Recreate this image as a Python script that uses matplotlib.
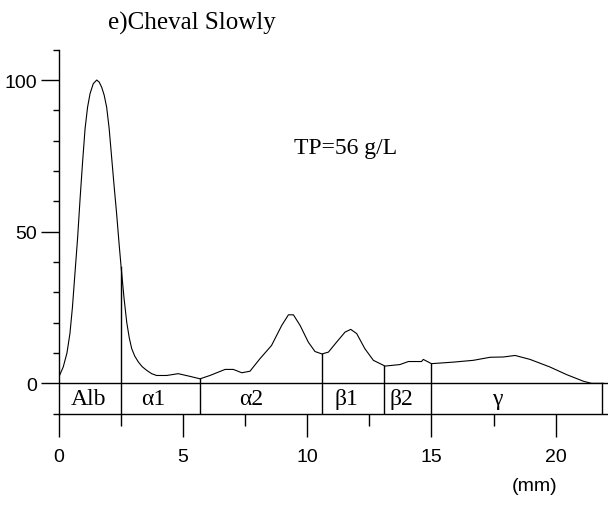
import matplotlib
matplotlib.use('Agg')
import matplotlib.pyplot as plt
import numpy as np

# densitometry trace (mm, relative %)
pos_mm = [0, 0.17, 0.32, 0.44, 0.54, 0.64, 0.75, 0.85, 0.95, 1.05, 1.15, 1.25, 1.38,
          1.52, 1.62, 1.72, 1.82, 1.92, 2.02, 2.12, 2.22, 2.32, 2.42, 2.5, 2.62,
          2.73, 2.83, 2.93, 3.05, 3.2, 3.35, 3.53, 3.73, 3.93, 4.34, 4.8, 5.28, 5.68,
          6.08, 6.69, 7.02, 7.36, 7.69, 8.09, 8.56, 8.97, 9.24, 9.44, 9.71, 10.04,
          10.31, 10.59, 10.85, 11.18, 11.52, 11.75, 11.99, 12.32, 12.66, 13.13,
          13.73, 14.07, 14.6, 14.67, 15.0, 15.88, 16.69, 17.36, 17.9, 18.37, 18.97,
          19.77, 20.44, 21.12, 21.45, 21.92]
intensity = [2.2, 5.4, 10, 16.4, 25, 36, 48, 61, 73, 84, 91, 95.5, 98.8,
             100, 99.3, 97.6, 95, 91, 84, 74.5, 65, 56, 46, 38.5, 28,
             20, 15, 11.4, 9, 7.0, 5.5, 4.3, 3.2, 2.6, 2.6, 3.2, 2.3, 1.5,
             2.6, 4.6, 4.6, 3.5, 4.0, 8.1, 12.5, 19.1, 22.6, 22.6, 19.1, 13.6,
             10.5, 9.7, 10.3, 13.6, 16.9, 17.8, 16.4, 11.4, 7.6, 5.7,
             6.2, 7.2, 7.2, 7.9, 6.5, 7.0, 7.6, 8.6, 8.7, 9.2, 7.9,
             5.4, 2.9, 0.7, 0.0, 0.0]

# fraction borders and names
borders = [2.5, 5.68, 10.59, 13.1, 15.0, 21.88]
fractions = ['Alb', 'α1', 'α2', 'β1', 'β2', 'γ']
label_x = [1.17, 3.78, 7.72, 11.56, 13.8, 17.63]

title = 'e)Cheval Slowly'
tp_text = 'TP=56 g/L'

sans = ['Liberation Sans Narrow', 'Liberation Sans', 'DejaVu Sans']
serif = ['Liberation Serif', 'DejaVu Serif']

fig = plt.figure(figsize=(6.08, 5.06), dpi=100)
ax = fig.add_axes([59/608, 91.3/506, 549/608, 364/506])

ax.plot(pos_mm, intensity, color='black', lw=0.8)
ax.axhline(0, color='black', lw=1.0)

tops = np.interp(borders, pos_mm, intensity)
for b, t in zip(borders, tops):
    ax.plot([b, b], [-10, t], color='black', lw=1.0)

for name, lx in zip(fractions, label_x):
    ax.text(lx, -5, name, ha='center', va='center', fontsize=17, family=serif)

ax.text(11.54, 77.6, tp_text, ha='center', va='center', fontsize=17, family=serif)

ax.set_xlim(0, 22.11)
ax.set_ylim(-10, 110)
ax.spines['top'].set_visible(False)
ax.spines['right'].set_visible(False)
ax.spines['left'].set_linewidth(1.0)
ax.spines['bottom'].set_linewidth(1.0)

ax.set_xticks([0, 5, 10, 15, 20])
ax.set_xticks([2.5, 7.5, 12.5, 17.5], minor=True)
ax.set_yticks([0, 50, 100])
ax.set_yticks(np.arange(-10, 111, 10), minor=True)
ax.tick_params(axis='x', which='major', length=16.3, width=1.0, pad=8.6, labelsize=14)
ax.tick_params(axis='x', which='minor', length=8.6, width=1.0)
ax.tick_params(axis='y', which='major', length=13, width=1.0, pad=2.9, labelsize=14)
ax.tick_params(axis='y', which='minor', length=4.3, width=1.0)
for lab in ax.get_xticklabels() + ax.get_yticklabels():
    lab.set_family(sans)

ax.text(19.16, -33.7, '(mm)', ha='center', va='center', fontsize=14, family=sans, clip_on=False)
fig.text(191.5/608, 1 - 23/506, title, ha='center', va='center', fontsize=18, family=serif)

fig.savefig('out.png', dpi=100)
